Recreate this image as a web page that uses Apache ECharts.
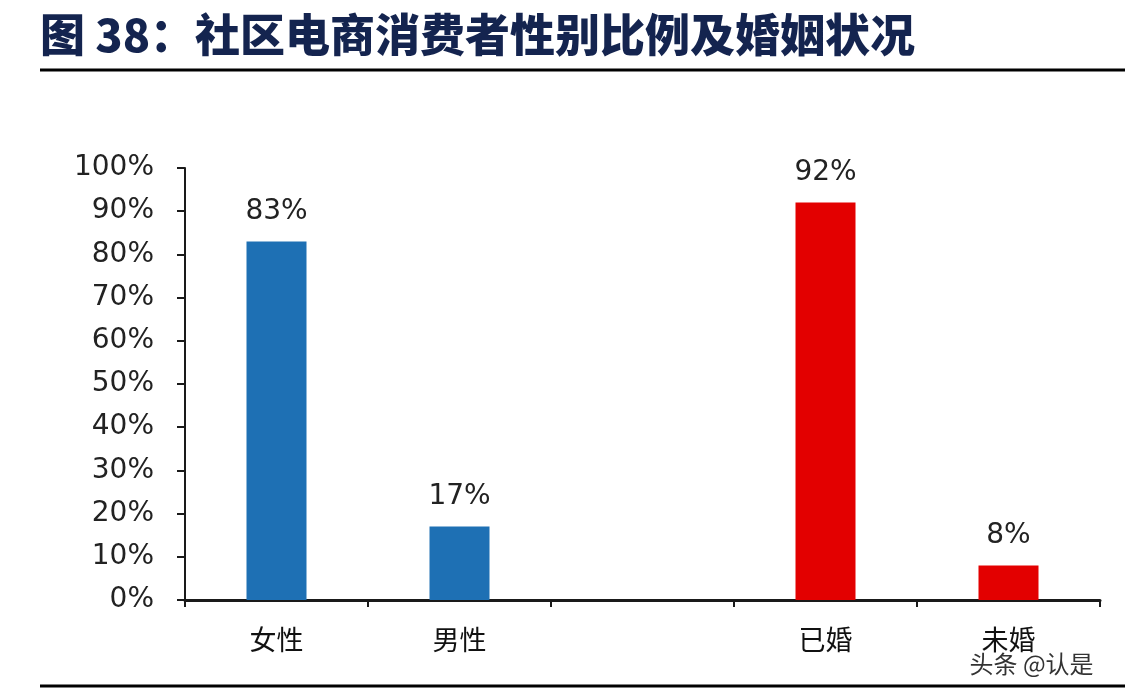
<!DOCTYPE html>
<html>
<head>
<meta charset="utf-8">
<script src="https://cdn.jsdelivr.net/npm/echarts@6/dist/echarts.min.js"></script>
<style>html,body{margin:0;padding:0;background:#fff;}#c{width:1140px;height:700px;}</style>
</head>
<body>
<div id="c"></div>
<script>
const titleText = '图 38：社区电商消费者性别比例及婚姻状况';
const categories = ['女性', '男性', '', '已婚', '未婚'];
const values = [83, 17, null, 92, 8];
const barColors = ['#1e70b4', '#1e70b4', null, '#e30000', '#e30000'];
const yTicks = [0, 10, 20, 30, 40, 50, 60, 70, 80, 90, 100];
const watermark = '头条 @认是';

const chart = echarts.init(document.getElementById('c'), null, {renderer: 'canvas'});
chart.setOption({
  backgroundColor: '#ffffff',
  animation: false,
  grid: {left: 185, right: 40, top: 168, bottom: 100},
  xAxis: {
    type: 'category',
    data: categories,
    boundaryGap: true,
    axisLine: {lineStyle: {color: '#1a1a1a', width: 3}},
    axisTick: {show: true, interval: 0, length: 7, lineStyle: {color: '#1a1a1a', width: 2}},
    axisLabel: {interval: 0, margin: 26, fontSize: 27, color: '#111', fontFamily: 'Noto Sans CJK SC'}
  },
  yAxis: {
    type: 'value',
    min: yTicks[0],
    max: yTicks[yTicks.length - 1],
    interval: 10,
    splitLine: {show: false},
    axisLine: {show: true, lineStyle: {color: '#1a1a1a', width: 2}},
    axisTick: {show: true, length: 8, lineStyle: {color: '#1a1a1a', width: 2}},
    axisLabel: {margin: 31, fontSize: 28, color: '#222', fontFamily: 'DejaVu Sans', formatter: v => v + '%'}
  },
  series: [{
    type: 'bar',
    barWidth: 60,
    data: values.map((v, i) => ({value: v, itemStyle: {color: barColors[i]}})),
    label: {
      show: true, position: 'top', distance: 16,
      fontSize: 28, color: '#222', fontFamily: 'DejaVu Sans',
      formatter: p => p.value + '%'
    },
    z: 1
  }],
  graphic: [
    {type: 'text', left: 40, top: 12, style: {text: titleText, font: '900 45px "Noto Sans CJK SC"', fill: '#14244f'}},
    {type: 'line', shape: {x1: 40, y1: 70, x2: 1125, y2: 70}, style: {stroke: '#000', lineWidth: 3}},
    {type: 'line', shape: {x1: 40, y1: 686, x2: 1125, y2: 686}, style: {stroke: '#000', lineWidth: 3}},
    {type: 'text', left: 968, top: 650, style: {text: watermark, font: '24px "Noto Sans CJK SC"', fill: '#333', stroke: '#fff', lineWidth: 3}}
  ]
});
</script>
</body>
</html>
